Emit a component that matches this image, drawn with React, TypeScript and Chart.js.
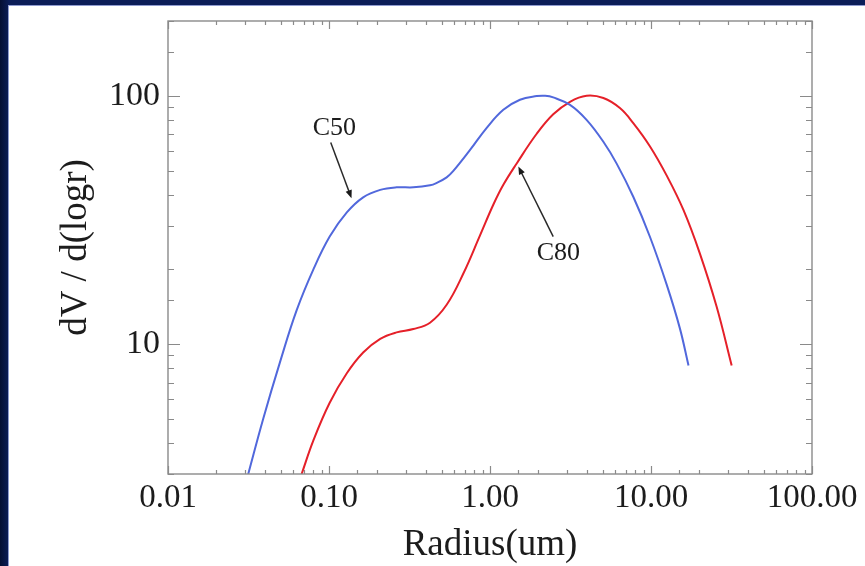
import React, { useEffect, useRef } from "react";
import { Chart, registerables } from "chart.js";

Chart.register(...registerables);

// ---- data ----
const c50X = [0.0315, 0.039, 0.05, 0.063, 0.08, 0.101, 0.129, 0.163, 0.208, 0.263, 0.334, 0.424, 0.467, 0.538, 0.592, 0.752, 0.954, 1.21, 1.535, 1.95, 2.2, 2.47, 3.14, 3.98, 5.06, 6.12, 7.76, 9.86, 12.5, 15.1, 17.1];
const c50Y = [3.0, 5.0, 8.6, 13.7, 20.0, 27.1, 33.9, 39.0, 41.8, 42.8, 42.8, 43.6, 44.6, 46.9, 49.8, 60.5, 74.3, 87.8, 96.4, 99.7, 100, 98.5, 91.9, 80.0, 65.3, 53.3, 39.2, 27.0, 17.4, 11.6, 8.2];

const c80X = [0.0676, 0.08, 0.101, 0.129, 0.163, 0.208, 0.263, 0.334, 0.424, 0.538, 0.682, 0.867, 1.048, 1.21, 1.465, 1.95, 2.47, 3.14, 3.98, 5.06, 6.41, 7.76, 9.86, 12.5, 15.9, 20.1, 25.6, 31.7];
const c80Y = [3.0, 4.1, 5.81, 7.63, 9.25, 10.5, 11.15, 11.5, 12.2, 14.4, 19.2, 27.4, 36.4, 43.8, 53.4, 70.3, 84.2, 94.6, 100, 97.9, 89.2, 77.6, 62.5, 47.8, 34.7, 23.2, 14.1, 8.2];

const xDecadeLabels = ["0.01", "0.10", "1.00", "10.00", "100.00"];
const yDecadeLabels = ["10", "100"];
const xMin = 0.01;
const xMax = 100;
const yMin = 3;
const yMax = 200;
const xTitle = "Radius(um)";
const yTitle = "dV / d(logr)";

// annotation anchors in data units: label, text position, arrow tail, arrow tip
const annotationLabels = ["C50", "C80"];
const annotationText = [[0.108, 74.1], [2.66, 23.2]];
const annotationTail = [[0.1025, 64.8], [2.47, 27.1]];
const annotationTip = [[0.138, 38.7], [1.5, 51.9]];

const FONT = "'Liberation Serif', 'DejaVu Serif', serif";
const AXIS_COLOR = "#8a8a8a";
const TEXT_COLOR = "#1c1c1c";

function isDecade(v: number) {
  const l = Math.log10(v);
  return Math.abs(l - Math.round(l)) < 1e-6;
}

function decadeLabel(v: number, min: number, labels: string[]) {
  const i = Math.round(Math.log10(v) - Math.log10(min));
  return labels[i] ?? "";
}

const frameTicksPlugin = {
  id: "frameTicks",
  afterDatasetsDraw(chart: any) {
    const { ctx, chartArea: a, scales } = chart;
    const xs = scales.x;
    const ys = scales.y;
    ctx.save();
    ctx.strokeStyle = AXIS_COLOR;
    ctx.lineWidth = 1.4;
    ctx.strokeRect(a.left, a.top, a.right - a.left, a.bottom - a.top);
    ctx.lineWidth = 1.2;
    ctx.beginPath();
    for (const t of xs.ticks) {
      const px = Math.round(xs.getPixelForValue(t.value)) + 0.5;
      const len = isDecade(t.value) ? 8 : 4;
      ctx.moveTo(px, a.bottom);
      ctx.lineTo(px, a.bottom - len);
      ctx.moveTo(px, a.top);
      ctx.lineTo(px, a.top + len);
    }
    for (const t of ys.ticks) {
      const py = Math.round(ys.getPixelForValue(t.value)) + 0.5;
      const len = isDecade(t.value) ? 12 : 6;
      ctx.moveTo(a.left, py);
      ctx.lineTo(a.left + len, py);
      ctx.moveTo(a.right, py);
      ctx.lineTo(a.right - len, py);
    }
    ctx.stroke();
    ctx.restore();
  },
};

const annotationPlugin = {
  id: "arrowNotes",
  afterDatasetsDraw(chart: any) {
    const { ctx, scales } = chart;
    const xs = scales.x;
    const ys = scales.y;
    ctx.save();
    annotationLabels.forEach((label, i) => {
      const tx = xs.getPixelForValue(annotationText[i][0]);
      const ty = ys.getPixelForValue(annotationText[i][1]);
      ctx.fillStyle = TEXT_COLOR;
      ctx.font = `26px ${FONT}`;
      ctx.textAlign = "center";
      ctx.textBaseline = "middle";
      ctx.fillText(label, tx, ty);

      const x0 = xs.getPixelForValue(annotationTail[i][0]);
      const y0 = ys.getPixelForValue(annotationTail[i][1]);
      const x1 = xs.getPixelForValue(annotationTip[i][0]);
      const y1 = ys.getPixelForValue(annotationTip[i][1]);
      const ang = Math.atan2(y1 - y0, x1 - x0);
      const headLen = 8;
      const headW = 3.2;
      ctx.strokeStyle = "#2a2a2a";
      ctx.lineWidth = 1.5;
      ctx.beginPath();
      ctx.moveTo(x0, y0);
      ctx.lineTo(x1 - Math.cos(ang) * headLen * 0.8, y1 - Math.sin(ang) * headLen * 0.8);
      ctx.stroke();
      ctx.fillStyle = "#1a1a1a";
      ctx.beginPath();
      ctx.moveTo(x1, y1);
      ctx.lineTo(
        x1 - Math.cos(ang) * headLen - Math.sin(ang) * headW,
        y1 - Math.sin(ang) * headLen + Math.cos(ang) * headW
      );
      ctx.lineTo(
        x1 - Math.cos(ang) * headLen + Math.sin(ang) * headW,
        y1 - Math.sin(ang) * headLen - Math.cos(ang) * headW
      );
      ctx.closePath();
      ctx.fill();
    });
    ctx.restore();
  },
};

export default function App() {
  const canvasRef = useRef<HTMLCanvasElement | null>(null);

  useEffect(() => {
    if (!canvasRef.current) return;
    const toPoints = (xs: number[], ys: number[]) => xs.map((x, i) => ({ x, y: ys[i] }));
    const chart = new Chart(canvasRef.current, {
      type: "line",
      data: {
        datasets: [
          {
            label: "C50",
            data: toPoints(c50X, c50Y),
            borderColor: "#5168dc",
            borderWidth: 2,
            pointRadius: 0,
            tension: 0.4,
            fill: false,
          },
          {
            label: "C80",
            data: toPoints(c80X, c80Y),
            borderColor: "#e52029",
            borderWidth: 2,
            pointRadius: 0,
            tension: 0.4,
            fill: false,
          },
        ],
      },
      options: {
        responsive: false,
        animation: false,
        layout: { padding: { top: 21, right: 53, left: 0, bottom: 0 } },
        plugins: { legend: { display: false }, tooltip: { enabled: false } },
        scales: {
          x: {
            type: "logarithmic",
            min: xMin,
            max: xMax,
            grid: { display: false, drawTicks: false },
            border: { display: false },
            ticks: {
              autoSkip: false,
              maxRotation: 0,
              padding: 5,
              color: TEXT_COLOR,
              font: { family: FONT, size: 33 },
              callback: (v: any) => (isDecade(Number(v)) ? decadeLabel(Number(v), xMin, xDecadeLabels) : ""),
            },
            title: {
              display: true,
              text: xTitle,
              color: TEXT_COLOR,
              font: { family: FONT, size: 37 },
              padding: { top: 0, bottom: -1 },
            },
            afterFit: (s: any) => {
              s.height = 92;
              s.paddingLeft = 0;
              s.paddingRight = 0;
            },
          },
          y: {
            type: "logarithmic",
            min: yMin,
            max: yMax,
            grid: { display: false, drawTicks: false },
            border: { display: false },
            ticks: {
              autoSkip: false,
              padding: 8,
              color: TEXT_COLOR,
              font: { family: FONT, size: 34 },
              callback: (v: any) => (isDecade(Number(v)) ? decadeLabel(Number(v), 10, yDecadeLabels) : ""),
            },
            title: {
              display: true,
              text: yTitle,
              color: TEXT_COLOR,
              font: { family: FONT, size: 37 },
              padding: { top: 54, bottom: 0 },
            },
            afterFit: (s: any) => {
              s.width = 168;
              s.paddingTop = 0;
              s.paddingBottom = 0;
            },
          },
        },
      },
      plugins: [frameTicksPlugin, annotationPlugin],
    } as any);
    return () => chart.destroy();
  }, []);

  return (
    <div
      style={{
        position: "fixed",
        left: 0,
        top: 0,
        width: 865,
        height: 566,
        background: "linear-gradient(90deg, #050f33 0px, #0b1d58 9px)",
        overflow: "hidden",
      }}
    >
      <div
        style={{
          position: "absolute",
          left: 8,
          top: 5,
          right: 0,
          bottom: 0,
          background: "#ffffff",
          borderTop: "1px solid #8f9bd0",
          borderLeft: "1px solid #8f9bd0",
        }}
      />
      <canvas
        ref={canvasRef}
        width={865}
        height={566}
        style={{ position: "absolute", left: 0, top: 0, width: 865, height: 566 }}
      />
    </div>
  );
}
